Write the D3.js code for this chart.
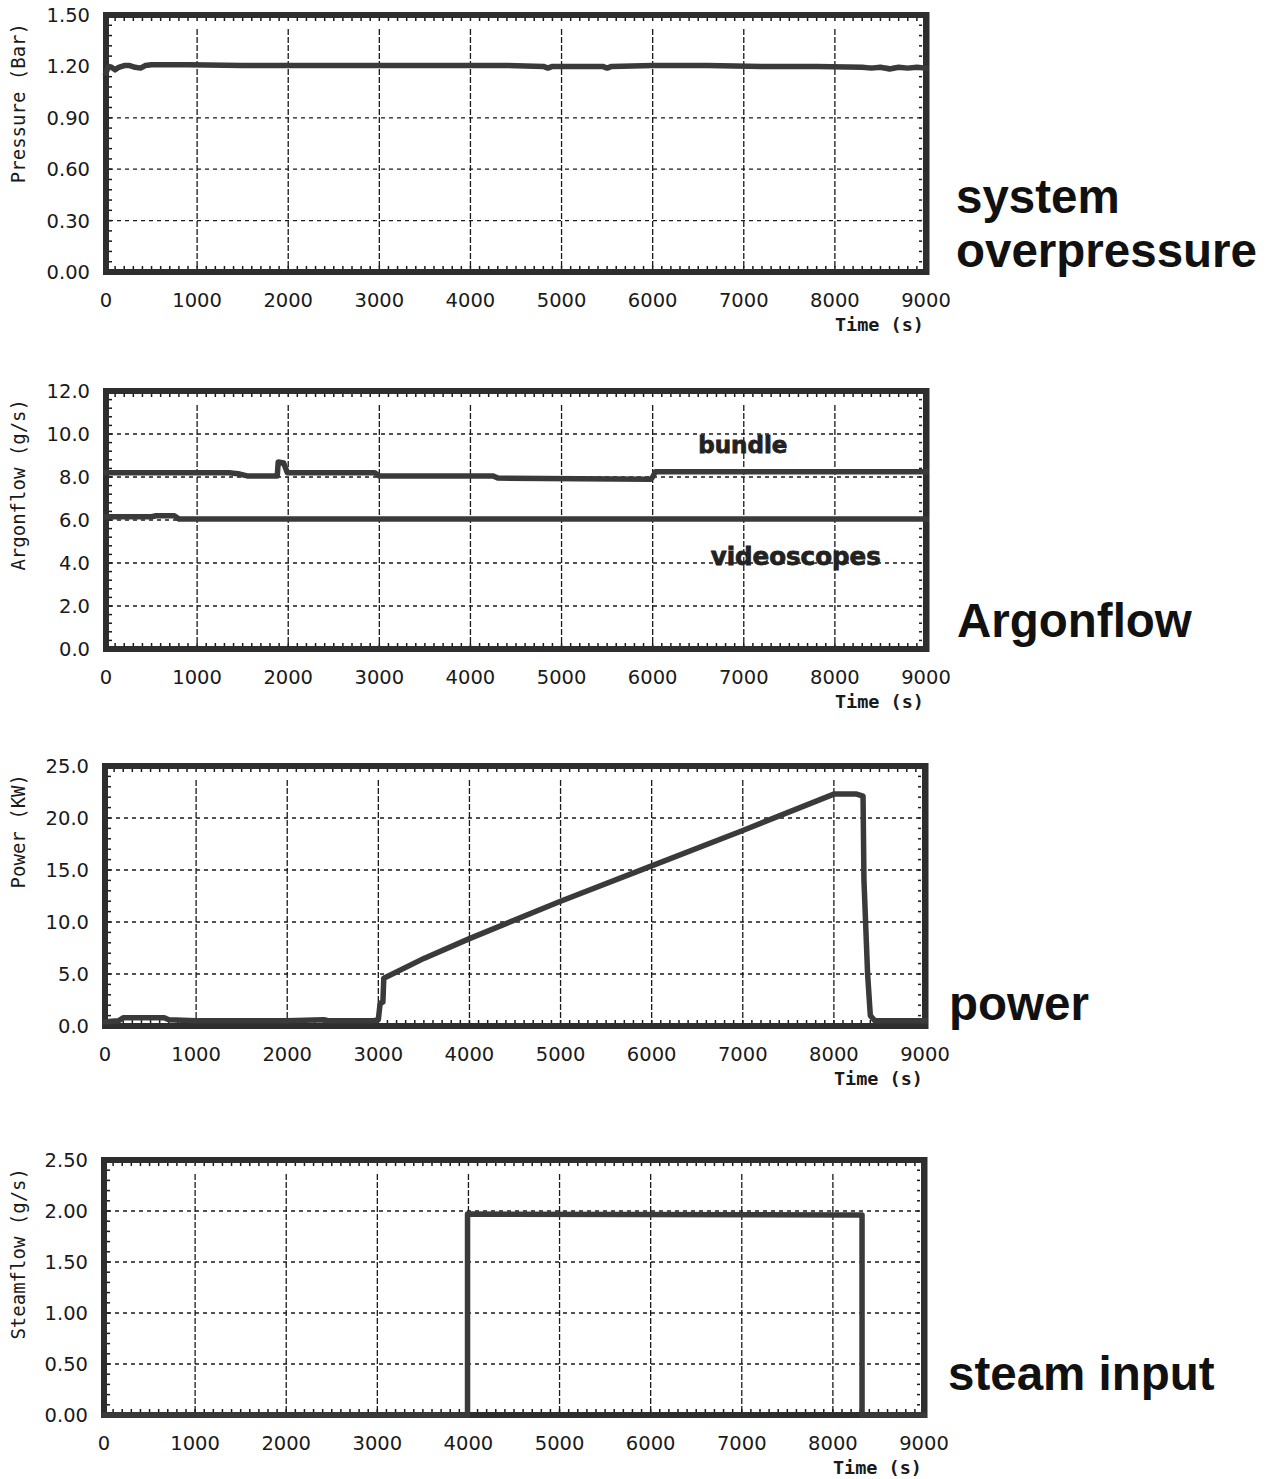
<!DOCTYPE html>
<html>
<head>
<meta charset="utf-8">
<script src="https://cdn.jsdelivr.net/npm/d3@7"></script>
<style>
  body { margin: 0; background: #fff; }
  svg { display: block; }
</style>
</head>
<body>
<svg id="chart" width="1275" height="1479"></svg>
<script>
// ---- data: test run recordings (time in s) ----
const timeTicks = [0, 1000, 2000, 3000, 4000, 5000, 6000, 7000, 8000, 9000];

const pressureTicks = [0, 0.3, 0.6, 0.9, 1.2, 1.5];
const pressureTime  = [0, 25, 60, 100, 140, 200, 260, 320, 380, 430, 500, 900, 1500, 2000, 2600, 3200, 3800, 4400, 4800, 4850, 4900, 5200, 5450, 5500, 5550, 6000, 6600, 7200, 7800, 8300, 8400, 8500, 8600, 8700, 8800, 8900, 9000];
const pressureValue = [1.16, 1.20, 1.195, 1.18, 1.195, 1.205, 1.205, 1.195, 1.19, 1.205, 1.21, 1.21, 1.205, 1.205, 1.205, 1.205, 1.205, 1.205, 1.20, 1.19, 1.20, 1.20, 1.20, 1.19, 1.20, 1.205, 1.205, 1.20, 1.20, 1.195, 1.19, 1.195, 1.185, 1.195, 1.19, 1.195, 1.19];

const argonTicks   = [0, 2, 4, 6, 8, 10, 12];
const bundleTime   = [0, 1350, 1450, 1550, 1880, 1890, 1950, 1990, 2950, 3000, 4250, 4300, 5980, 6000, 6030, 9000];
const bundleValue  = [8.2, 8.2, 8.15, 8.05, 8.05, 8.7, 8.65, 8.2, 8.2, 8.05, 8.05, 7.95, 7.9, 8.0, 8.25, 8.25];
const videoTime    = [0, 500, 550, 750, 800, 9000];
const videoValue   = [6.15, 6.15, 6.2, 6.2, 6.05, 6.05];

const powerTicks = [0, 5, 10, 15, 20, 25];
const powerTime  = [0, 150, 200, 650, 700, 1000, 1500, 2000, 2400, 2450, 2950, 3000, 3020, 3050, 3060, 3500, 4000, 5000, 6000, 7000, 8000, 8250, 8320, 8330, 8370, 8400, 8450, 9000];
const powerValue = [0.4, 0.5, 0.8, 0.8, 0.6, 0.5, 0.5, 0.5, 0.6, 0.5, 0.5, 0.6, 2.2, 2.3, 4.6, 6.5, 8.4, 12.0, 15.4, 18.8, 22.3, 22.3, 22.1, 14.0, 5.0, 1.0, 0.5, 0.5];

const steamTicks = [0, 0.5, 1.0, 1.5, 2.0, 2.5];
const steamTime  = [0, 3990, 3990, 8320, 8320, 9000];
const steamValue = [0, 0, 1.97, 1.96, 0, 0];

// ---- drawing ----
const svg = d3.select("#chart");
const INK = "#1a1a1a";
const TRACE = "#3a3a3a";
const MONO = "'DejaVu Sans Mono', 'Liberation Mono', monospace";
const NUM = "'DejaVu Sans', 'Liberation Sans', sans-serif";

function zip(t, v) { return t.map((d, i) => ({ t: d, v: v[i] })); }

function panel(opts) {
  const g = svg.append("g");
  const x = d3.scaleLinear().domain([0, 9000]).range([opts.x0, opts.x1]);
  const y = d3.scaleLinear().domain([0, opts.yMax]).range([opts.yBottom, opts.yTop]);
  const fmt = d3.format(opts.fmt);

  // horizontal grid (dotted), skipping the frame lines
  g.append("g").selectAll("line")
    .data(opts.yTicks.filter(v => v > 0 && v < opts.yMax))
    .join("line")
    .attr("x1", opts.x0 + 3).attr("x2", opts.x1 - 3)
    .attr("y1", d => y(d)).attr("y2", d => y(d))
    .attr("stroke", INK).attr("stroke-width", 1.3)
    .attr("stroke-dasharray", "4,4");

  // vertical grid (dashed)
  g.append("g").selectAll("line")
    .data(timeTicks.filter(v => v > 0 && v < 9000))
    .join("line")
    .attr("x1", d => x(d)).attr("x2", d => x(d))
    .attr("y1", opts.yTop + 14).attr("y2", opts.yBottom - 3)
    .attr("stroke", INK).attr("stroke-width", 1.3)
    .attr("stroke-dasharray", "6,2");

  // minor ticks along the inner edge of the frame
  const minorX = d3.range(100, 9000, 100);
  const minor = g.append("g").attr("stroke", INK).attr("stroke-width", 1.5);
  minor.selectAll(".mt").data(minorX).join("line")
    .attr("x1", d => x(d)).attr("x2", d => x(d))
    .attr("y1", opts.yTop + 3).attr("y2", opts.yTop + 6);
  minor.selectAll(".mb").data(minorX).join("line")
    .attr("x1", d => x(d)).attr("x2", d => x(d))
    .attr("y1", opts.yBottom - 3).attr("y2", opts.yBottom - 6);
  const step = opts.yTicks[1] / 5;
  const minorY = d3.range(1, Math.round(opts.yMax / step)).map(i => i * step);
  minor.selectAll(".ml").data(minorY).join("line")
    .attr("x1", opts.x0 + 3).attr("x2", opts.x0 + 6)
    .attr("y1", d => y(d)).attr("y2", d => y(d));
  minor.selectAll(".mr").data(minorY).join("line")
    .attr("x1", opts.x1 - 4).attr("x2", opts.x1 - 7)
    .attr("y1", d => y(d)).attr("y2", d => y(d));

  // frame
  g.append("rect")
    .attr("x", opts.x0).attr("y", opts.yTop)
    .attr("width", opts.x1 - opts.x0).attr("height", opts.yBottom - opts.yTop)
    .attr("fill", "none").attr("stroke", "#2e2e2e").attr("stroke-width", 6);
  g.append("line")
    .attr("x1", opts.x1 + 1.5).attr("x2", opts.x1 + 1.5)
    .attr("y1", opts.yTop - 3).attr("y2", opts.yBottom + 3)
    .attr("stroke", "#2e2e2e").attr("stroke-width", 4);

  // traces
  const line = d3.line().x(d => x(d.t)).y(d => y(d.v));
  opts.series.forEach(s => {
    g.append("path")
      .datum(zip(s.t, s.v))
      .attr("d", line)
      .attr("fill", "none")
      .attr("stroke", TRACE)
      .attr("stroke-width", 5.5)
      .attr("stroke-linejoin", "round")
      .attr("stroke-linecap", "square");
  });

  // y tick labels
  g.append("g").selectAll("text")
    .data(opts.yTicks).join("text")
    .attr("x", opts.x0 - 16).attr("y", d => y(d))
    .attr("dy", "0.36em")
    .attr("text-anchor", "end")
    .attr("font-family", NUM).attr("font-size", 19.5)
    .attr("fill", INK)
    .text(d => fmt(d));

  // x tick labels
  g.append("g").selectAll("text")
    .data(timeTicks).join("text")
    .attr("x", d => x(d)).attr("y", opts.yBottom + 28)
    .attr("dy", "0.36em")
    .attr("text-anchor", "middle")
    .attr("font-family", NUM).attr("font-size", 19.5)
    .attr("fill", INK)
    .text(d => d);

  // axis titles
  g.append("text")
    .attr("x", opts.x1 - 2).attr("y", opts.yBottom + 52)
    .attr("dy", "0.36em")
    .attr("text-anchor", "end")
    .attr("font-family", MONO).attr("font-size", 18.5)
    .attr("font-weight", "bold")
    .attr("fill", INK)
    .text("Time (s)");

  g.append("text")
    .attr("transform", `translate(25,${opts.yTop + 8}) rotate(-90)`)
    .attr("text-anchor", "end")
    .attr("font-family", MONO).attr("font-size", 19)
    .attr("fill", INK)
    .text(opts.yTitle);

  // panel caption on the right
  opts.caption.forEach((c, i) => {
    g.append("text")
      .attr("x", opts.captionX).attr("y", opts.captionY + i * 54)
      .attr("font-family", "'Liberation Sans', Arial, sans-serif")
      .attr("font-weight", "bold").attr("font-size", 47.5)
      .attr("fill", "#111")
      .text(c);
  });

  return { g, x, y };
}

panel({
  x0: 106, x1: 926, yTop: 15, yBottom: 272, yMax: 1.5,
  yTicks: pressureTicks, fmt: ".2f", yTitle: "Pressure (Bar)",
  series: [{ t: pressureTime, v: pressureValue }],
  caption: ["system", "overpressure"], captionX: 956, captionY: 213
});

const argon = panel({
  x0: 106, x1: 926, yTop: 391, yBottom: 649, yMax: 12,
  yTicks: argonTicks, fmt: ".1f", yTitle: "Argonflow (g/s)",
  series: [{ t: bundleTime, v: bundleValue }, { t: videoTime, v: videoValue }],
  caption: ["Argonflow"], captionX: 957, captionY: 637
});

// series labels inside the argon flow panel
[["bundle", 6990, 9.1, 23], ["videoscopes", 7570, 3.9, 24.5]].forEach(([txt, t, v, fs]) => {
  argon.g.append("text")
    .attr("x", argon.x(t)).attr("y", argon.y(v))
    .attr("text-anchor", "middle")
    .attr("font-family", "'DejaVu Sans', sans-serif")
    .attr("font-weight", "bold").attr("font-size", fs)
    .attr("fill", "#222")
    .attr("stroke", "#222").attr("stroke-width", 0.8)
    .text(txt);
});

panel({
  x0: 105, x1: 925, yTop: 766, yBottom: 1026, yMax: 25,
  yTicks: powerTicks, fmt: ".1f", yTitle: "Power (KW)",
  series: [{ t: powerTime, v: powerValue }],
  caption: ["power"], captionX: 949, captionY: 1020
});

panel({
  x0: 104, x1: 924, yTop: 1160, yBottom: 1415, yMax: 2.5,
  yTicks: steamTicks, fmt: ".2f", yTitle: "Steamflow (g/s)",
  series: [{ t: steamTime, v: steamValue }],
  caption: ["steam input"], captionX: 948, captionY: 1390
});
</script>
</body>
</html>
